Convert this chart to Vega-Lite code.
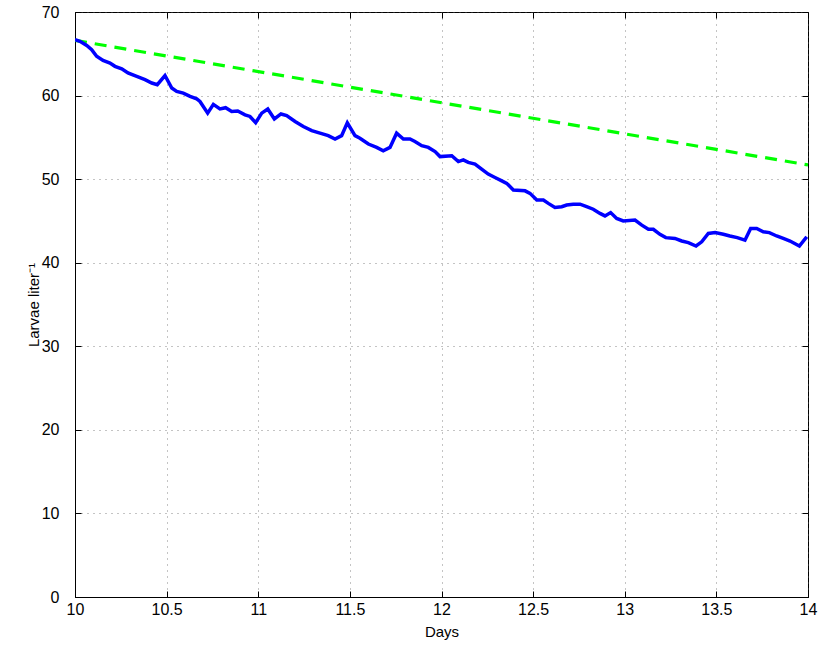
{
  "$schema": "https://vega.github.io/schema/vega-lite/v6.json",
  "width": 733,
  "height": 585,
  "autosize": {"type": "none"},
  "padding": {"left": 75, "top": 12, "right": 22, "bottom": 50},
  "background": "white",
  "config": {
    "view": {"stroke": "black", "strokeWidth": 1},
    "font": "Liberation Sans",
    "axis": {
      "labelFont": "Liberation Sans",
      "titleFont": "Liberation Sans",
      "labelFontSize": 16,
      "titleFontSize": 15,
      "titleFontWeight": "normal",
      "labelColor": "black",
      "titleColor": "black",
      "domainColor": "black",
      "tickColor": "black",
      "gridColor": "#555555",
      "gridDash": [1, 5],
      "gridOpacity": 0.7
    }
  },
  "datasets": {
    "observed": [
      {"day": 10.000, "larvae": 66.7}, {"day": 10.027, "larvae": 66.5}, {"day": 10.064, "larvae": 66.0},
      {"day": 10.091, "larvae": 65.5}, {"day": 10.118, "larvae": 64.7}, {"day": 10.153, "larvae": 64.2},
      {"day": 10.191, "larvae": 63.9}, {"day": 10.218, "larvae": 63.5}, {"day": 10.255, "larvae": 63.2},
      {"day": 10.289, "larvae": 62.7}, {"day": 10.337, "larvae": 62.3}, {"day": 10.382, "larvae": 61.9},
      {"day": 10.419, "larvae": 61.5}, {"day": 10.449, "larvae": 61.3}, {"day": 10.491, "larvae": 62.4},
      {"day": 10.528, "larvae": 60.9}, {"day": 10.555, "larvae": 60.5}, {"day": 10.591, "larvae": 60.3},
      {"day": 10.628, "larvae": 59.9}, {"day": 10.664, "larvae": 59.6}, {"day": 10.682, "larvae": 59.3},
      {"day": 10.724, "larvae": 57.9}, {"day": 10.755, "larvae": 58.95}, {"day": 10.791, "larvae": 58.4},
      {"day": 10.822, "larvae": 58.55}, {"day": 10.855, "larvae": 58.1}, {"day": 10.888, "larvae": 58.15},
      {"day": 10.928, "larvae": 57.7}, {"day": 10.955, "larvae": 57.5}, {"day": 10.986, "larvae": 56.75},
      {"day": 11.019, "larvae": 57.9}, {"day": 11.052, "larvae": 58.4}, {"day": 11.088, "larvae": 57.2},
      {"day": 11.124, "larvae": 57.8}, {"day": 11.155, "larvae": 57.6}, {"day": 11.201, "larvae": 56.9},
      {"day": 11.246, "larvae": 56.3}, {"day": 11.292, "larvae": 55.8}, {"day": 11.337, "larvae": 55.5},
      {"day": 11.382, "larvae": 55.2}, {"day": 11.419, "larvae": 54.8}, {"day": 11.455, "larvae": 55.2},
      {"day": 11.486, "larvae": 56.75}, {"day": 11.528, "larvae": 55.2}, {"day": 11.555, "larvae": 54.9},
      {"day": 11.601, "larvae": 54.2}, {"day": 11.646, "larvae": 53.8}, {"day": 11.682, "larvae": 53.4},
      {"day": 11.719, "larvae": 53.8}, {"day": 11.755, "larvae": 55.5}, {"day": 11.792, "larvae": 54.8},
      {"day": 11.828, "larvae": 54.8}, {"day": 11.855, "larvae": 54.5}, {"day": 11.892, "larvae": 54.0},
      {"day": 11.928, "larvae": 53.8}, {"day": 11.965, "larvae": 53.3}, {"day": 11.992, "larvae": 52.7},
      {"day": 12.056, "larvae": 52.8}, {"day": 12.092, "larvae": 52.1}, {"day": 12.119, "larvae": 52.3},
      {"day": 12.146, "larvae": 52.0}, {"day": 12.183, "larvae": 51.8}, {"day": 12.219, "larvae": 51.2},
      {"day": 12.255, "larvae": 50.6}, {"day": 12.292, "larvae": 50.2}, {"day": 12.329, "larvae": 49.8},
      {"day": 12.356, "larvae": 49.5}, {"day": 12.392, "larvae": 48.7}, {"day": 12.456, "larvae": 48.6},
      {"day": 12.483, "larvae": 48.3}, {"day": 12.520, "larvae": 47.5}, {"day": 12.556, "larvae": 47.5},
      {"day": 12.583, "larvae": 47.1}, {"day": 12.619, "larvae": 46.6}, {"day": 12.656, "larvae": 46.7},
      {"day": 12.683, "larvae": 46.9}, {"day": 12.719, "larvae": 47.0}, {"day": 12.756, "larvae": 47.0},
      {"day": 12.792, "larvae": 46.7}, {"day": 12.828, "larvae": 46.4}, {"day": 12.865, "larvae": 45.9},
      {"day": 12.892, "larvae": 45.6}, {"day": 12.923, "larvae": 46.0}, {"day": 12.956, "larvae": 45.3},
      {"day": 12.992, "larvae": 45.0}, {"day": 13.056, "larvae": 45.1}, {"day": 13.093, "larvae": 44.5},
      {"day": 13.129, "larvae": 44.0}, {"day": 13.156, "larvae": 44.0}, {"day": 13.192, "larvae": 43.4},
      {"day": 13.224, "larvae": 43.0}, {"day": 13.274, "larvae": 42.9}, {"day": 13.311, "larvae": 42.6},
      {"day": 13.347, "larvae": 42.4}, {"day": 13.389, "larvae": 42.0}, {"day": 13.420, "larvae": 42.5},
      {"day": 13.456, "larvae": 43.5}, {"day": 13.493, "larvae": 43.6}, {"day": 13.538, "larvae": 43.4},
      {"day": 13.574, "larvae": 43.2}, {"day": 13.614, "larvae": 43.0}, {"day": 13.656, "larvae": 42.7},
      {"day": 13.687, "larvae": 44.1}, {"day": 13.720, "larvae": 44.1}, {"day": 13.756, "larvae": 43.7},
      {"day": 13.789, "larvae": 43.6}, {"day": 13.829, "larvae": 43.2}, {"day": 13.865, "larvae": 42.9},
      {"day": 13.902, "larvae": 42.6}, {"day": 13.953, "larvae": 42.0}, {"day": 13.993, "larvae": 43.1}
    ],
    "model": [
      {"day": 10.0, "larvae": 66.6},
      {"day": 14.0, "larvae": 51.7}
    ]
  },
  "resolve": {"axis": {"x": "independent", "y": "independent"}},
  "layer": [
    {
      "data": {"name": "model"},
      "mark": {"type": "line", "color": "#00ff00", "strokeWidth": 3.2, "strokeDash": [12, 8], "clip": true},
      "encoding": {
        "x": {
          "field": "day", "type": "quantitative",
          "scale": {"domain": [10, 14], "nice": false, "zero": false},
          "axis": {
            "title": "Days", "values": [10, 10.5, 11, 11.5, 12, 12.5, 13, 13.5, 14],
            "format": "~g",
            "grid": true, "tickSize": -6, "labelPadding": 10, "titlePadding": 7,
            "domain": true, "labelFlush": false
          }
        },
        "y": {
          "field": "larvae", "type": "quantitative",
          "scale": {"domain": [0, 70], "nice": false},
          "axis": {
            "title": "Larvae liter⁻¹", "values": [0, 10, 20, 30, 40, 50, 60, 70],
            "grid": true, "tickSize": -6, "labelPadding": 22, "titlePadding": 0,
            "domain": true
          }
        }
      }
    },
    {
      "data": {"name": "observed"},
      "mark": {"type": "line", "color": "#0000ff", "strokeWidth": 3.5, "clip": true},
      "encoding": {
        "x": {
          "field": "day", "type": "quantitative",
          "scale": {"domain": [10, 14], "nice": false, "zero": false},
          "axis": {
            "orient": "top", "title": null, "labels": false, "grid": false,
            "values": [10, 10.5, 11, 11.5, 12, 12.5, 13, 13.5, 14],
            "tickSize": -6, "domain": false
          }
        },
        "y": {
          "field": "larvae", "type": "quantitative",
          "scale": {"domain": [0, 70], "nice": false},
          "axis": {
            "orient": "right", "title": null, "labels": false, "grid": false,
            "values": [0, 10, 20, 30, 40, 50, 60, 70],
            "tickSize": -6, "domain": false
          }
        }
      }
    }
  ]
}
